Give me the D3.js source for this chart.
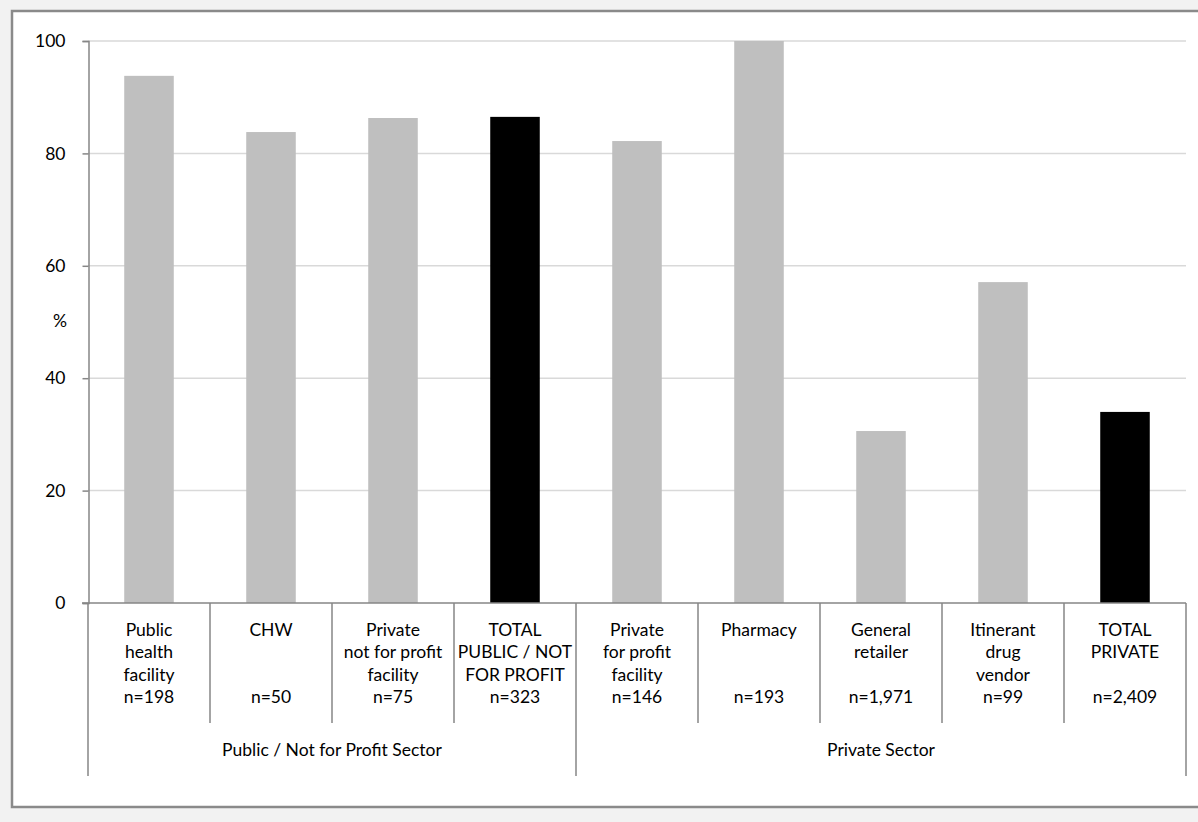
<!DOCTYPE html>
<html>
<head>
<meta charset="utf-8">
<script src="https://cdn.jsdelivr.net/npm/d3@7"></script>
<style>
  html, body { margin: 0; padding: 0; background: #f2f2f2; }
  svg { display: block; }
  text { font-family: Lato, "Open Sans", sans-serif; fill: #000; }
</style>
</head>
<body>
<svg id="chart" width="1198" height="822"></svg>
<script>
const categories = ["Public health facility", "CHW", "Private not for profit facility", "TOTAL PUBLIC / NOT FOR PROFIT",
  "Private for profit facility", "Pharmacy", "General retailer", "Itinerant drug vendor", "TOTAL PRIVATE"];
const labelLines = [
  ["Public", "health", "facility"],
  ["CHW"],
  ["Private", "not for profit", "facility"],
  ["TOTAL", "PUBLIC / NOT", "FOR PROFIT"],
  ["Private", "for profit", "facility"],
  ["Pharmacy"],
  ["General", "retailer"],
  ["Itinerant", "drug", "vendor"],
  ["TOTAL", "PRIVATE"]
];
const sampleSizes = ["n=198", "n=50", "n=75", "n=323", "n=146", "n=193", "n=1,971", "n=99", "n=2,409"];
const values = [93.8, 83.8, 86.3, 86.5, 82.2, 100, 30.6, 57.1, 34.0];
const isTotal = [false, false, false, true, false, false, false, false, true];
const sectors = ["Public / Not for Profit Sector", "Private Sector"];
const sectorOf = [0, 0, 0, 0, 1, 1, 1, 1, 1];
const yTicks = [0, 20, 40, 60, 80, 100];
const yLabel = "%";

const svg = d3.select("#chart");
const W = 1198, H = 822;
const plot = { left: 88, right: 1186, top: 41, bottom: 603 };

// outer white chart box
svg.append("rect").attr("x", 12).attr("y", 11).attr("width", 1200).attr("height", 796)
  .attr("fill", "#fff").attr("stroke", "#8a8a8a").attr("stroke-width", 2.5);

const x = d3.scaleBand().domain(categories).range([plot.left, plot.right]).paddingInner(0.594).paddingOuter(0.297);
const xCell = d3.scaleBand().domain(categories).range([plot.left, plot.right]).padding(0);
const y = d3.scaleLinear().domain([0, 100]).range([plot.bottom, plot.top]);

// gridlines
svg.append("g").selectAll("line").data(yTicks.filter(d => d > 0)).join("line")
  .attr("x1", plot.left).attr("x2", plot.right)
  .attr("y1", d => y(d)).attr("y2", d => y(d))
  .attr("stroke", "#d9d9d9").attr("stroke-width", 1.5);

// bars
svg.append("g").selectAll("rect").data(categories).join("rect")
  .attr("x", d => x(d)).attr("width", x.bandwidth())
  .attr("y", (d, i) => y(values[i])).attr("height", (d, i) => y(0) - y(values[i]))
  .attr("fill", (d, i) => isTotal[i] ? "#000" : "#bfbfbf");

// y axis
const yAxis = d3.axisLeft(y).tickValues(yTicks).tickSize(6).tickPadding(17).tickFormat(d3.format("d"));
const gy = svg.append("g").attr("transform", `translate(${plot.left + 0.5},0)`).call(yAxis);
gy.select(".domain").attr("stroke", "#868686").attr("stroke-width", 1.5);
gy.selectAll(".tick line").attr("stroke", "#868686").attr("stroke-width", 1.5);
gy.selectAll(".tick text").attr("font-size", 17.5).attr("font-family", "Lato, sans-serif").attr("fill", "#000");

svg.append("text").attr("x", 60).attr("y", 327).attr("text-anchor", "middle")
  .attr("font-size", 17.5).text(yLabel);

// x axis baseline
svg.append("line").attr("x1", plot.left - 6).attr("x2", plot.right)
  .attr("y1", y(0)).attr("y2", y(0)).attr("stroke", "#868686").attr("stroke-width", 1.5);

// category dividers
const boundaries = d3.range(categories.length + 1);
svg.append("g").selectAll("line").data(boundaries).join("line")
  .attr("x1", i => i < categories.length ? xCell(categories[i]) : plot.right)
  .attr("x2", i => i < categories.length ? xCell(categories[i]) : plot.right)
  .attr("y1", y(0))
  .attr("y2", i => (i === 0 || i === categories.length || sectorOf[i] !== sectorOf[i - 1]) ? 776 : 723)
  .attr("stroke", "#868686").attr("stroke-width", 1.5);

// category labels
const lh = 22.4;
const labG = svg.append("g").attr("font-size", 17.5).attr("text-anchor", "middle");
categories.forEach((c, i) => {
  const cx = xCell(c) + xCell.bandwidth() / 2;
  labelLines[i].forEach((t, k) => {
    labG.append("text").attr("x", cx).attr("y", 636 + k * lh).text(t);
  });
  labG.append("text").attr("x", cx).attr("y", 636 + 3 * lh).text(sampleSizes[i]);
});

// sector labels
sectors.forEach((s, si) => {
  const idx = categories.filter((c, i) => sectorOf[i] === si);
  const x0 = xCell(idx[0]), x1 = xCell(idx[idx.length - 1]) + xCell.bandwidth();
  svg.append("text").attr("x", (x0 + x1) / 2).attr("y", 756).attr("text-anchor", "middle")
    .attr("font-size", 17.5).text(s);
});
</script>
</body>
</html>
